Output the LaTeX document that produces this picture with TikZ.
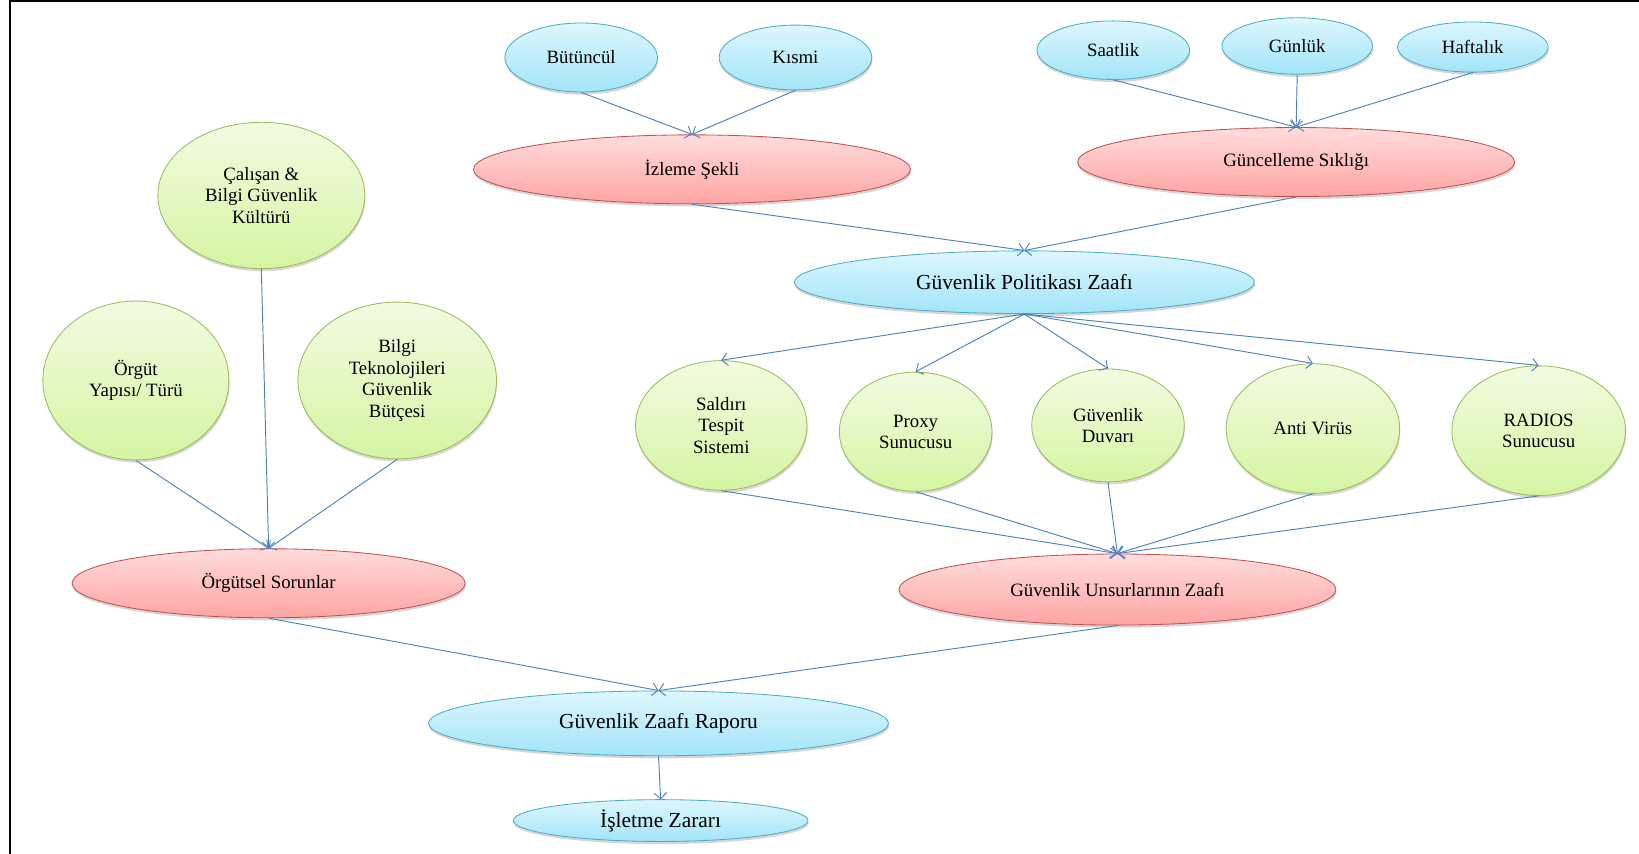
\documentclass[tikz,border=0pt]{standalone}
\usepackage{fontspec}
\setmainfont{Liberation Serif}
\usetikzlibrary{shapes.geometric,arrows.meta,shadows}

\definecolor{linkcol}{HTML}{4F81BD}
\definecolor{bluetop}{HTML}{DDF6FD}
\definecolor{bluebot}{HTML}{A2E5F9}
\definecolor{blueedge}{HTML}{4BACC6}
\definecolor{redtop}{HTML}{FFDCDC}
\definecolor{redbot}{HTML}{FFA4A4}
\definecolor{rededge}{HTML}{C0504D}
\definecolor{greentop}{HTML}{F2FBE2}
\definecolor{greenbot}{HTML}{D5F5A2}
\definecolor{greenedge}{HTML}{9BBB59}

\tikzset{
  base/.style={ellipse, inner sep=0pt, align=center,
    font=\fontsize{18}{20.5}\selectfont, line width=0.8pt,
    drop shadow={shadow xshift=0.6pt, shadow yshift=-2.5pt, fill=black, opacity=0.16}},
  bluebox/.style={base, draw=blueedge, top color=bluetop, bottom color=bluebot},
  redbox/.style={base, draw=rededge, top color=redtop, bottom color=redbot},
  greenbox/.style={base, draw=greenedge, top color=greentop, bottom color=greenbot},
  bigtext/.style={font=\fontsize{20.5}{23}\selectfont},
  sz/.style 2 args={minimum width=#1pt, minimum height=#2pt},
  link/.style={draw=linkcol, line width=0.9pt, -{Straight Barb[length=5.5pt,width=12pt]}}
}

\begin{document}
\begin{tikzpicture}[x=1pt, y=-1pt]
\useasboundingbox (0,0) rectangle (1568,817);

% frame
\draw[line width=2pt] (9.5,817) -- (9.5,1.2) -- (1568,1.2);

% monitoring mode
\node[bluebox, sz={146}{66}] (butuncul) at (556,55) {Bütüncül};
\node[bluebox, sz={146}{62}] (kismi) at (761,55) {Kısmi};
\node[redbox, sz={418}{66}] (izleme) at (662,162) {İzleme Şekli};

% update frequency
\node[bluebox, sz={146}{56}] (saatlik) at (1065,48) {Saatlik};
\node[bluebox, sz={144}{54}] (gunluk) at (1241,44) {Günlük};
\node[bluebox, sz={144}{48}] (haftalik) at (1409,45) {Haftalık};
\node[redbox, sz={418}{66}] (guncelleme) at (1240,155) {Güncelleme Sıklığı};

% policy weakness
\node[bluebox, bigtext, sz={440}{60}] (politika) at (980,270) {Güvenlik Politikası Zaafı};

% security components
\node[greenbox, sz={164}{124}] (saldiri) at (690,407) {Saldırı\\Tespit\\Sistemi};
\node[greenbox, sz={146}{114}] (proxy) at (876,413) {Proxy\\Sunucusu};
\node[greenbox, sz={146}{108}] (duvar) at (1060,407) {Güvenlik\\Duvarı};
\node[greenbox, sz={166}{124}] (antivirus) at (1256,410) {Anti Virüs};
\node[greenbox, sz={166}{124}] (radios) at (1472,412) {RADIOS\\Sunucusu};
\node[redbox, sz={418}{68}] (unsurlar) at (1069,564) {Güvenlik Unsurlarının Zaafı};

% organisational side
\node[greenbox, sz={198}{140}] (calisan) at (250,187) {Çalışan \&\\Bilgi Güvenlik\\Kültürü};
\node[greenbox, sz={178}{152}] (orgut) at (130,364) {Örgüt\\Yapısı/ Türü};
\node[greenbox, sz={190}{150}] (butce) at (380,364) {Bilgi\\Teknolojileri\\Güvenlik\\Bütçesi};
\node[redbox, sz={376}{66}] (sorunlar) at (257,558) {Örgütsel Sorunlar};

% results
\node[bluebox, bigtext, sz={440}{62}] (rapor) at (630,692) {Güvenlik Zaafı Raporu};
\node[bluebox, bigtext, sz={282}{40}] (zarar) at (632,785) {İşletme Zararı};

% connectors
\draw[link] (butuncul.south) -- (izleme.north);
\draw[link] (kismi.south) -- (izleme.north);
\draw[link] (saatlik.south) -- (guncelleme.north);
\draw[link] (gunluk.south) -- (guncelleme.north);
\draw[link] (haftalik.south) -- (guncelleme.north);
\draw[link] (izleme.south) -- (politika.north);
\draw[link] (guncelleme.south) -- (politika.north);

\foreach \n in {saldiri,proxy,duvar,antivirus,radios}{
  \draw[link] (politika.south) -- (\n.north);
  \draw[link] (\n.south) -- (unsurlar.north);
}

\draw[link] (orgut.south) -- (sorunlar.north);
\draw[link] (calisan.south) -- (sorunlar.north);
\draw[link] (butce.south) -- (sorunlar.north);

\draw[link] (sorunlar.south) -- (rapor.north);
\draw[link] (unsurlar.south) -- (rapor.north);
\draw[link] (rapor.south) -- (zarar.north);
\end{tikzpicture}
\end{document}
